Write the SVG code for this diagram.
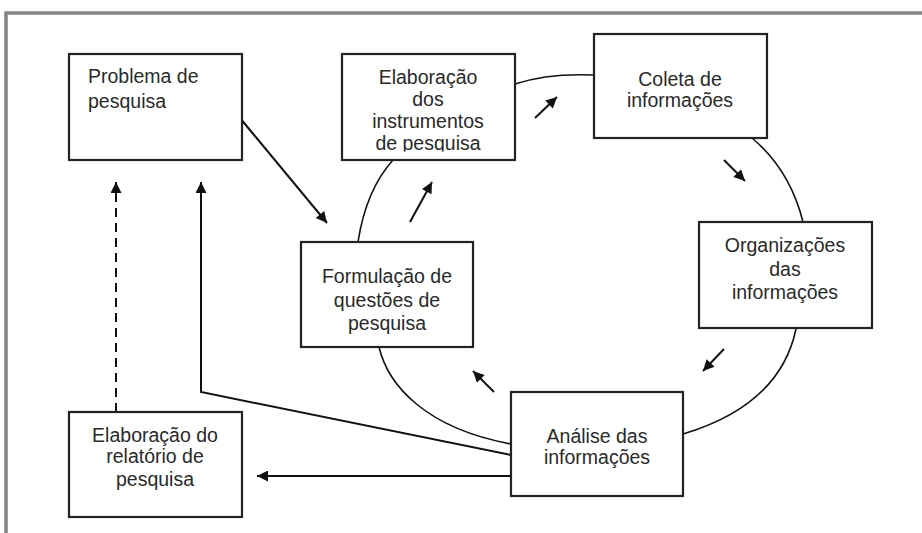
<svg xmlns="http://www.w3.org/2000/svg" width="922" height="533" viewBox="0 0 922 533">
<defs>
<style>
.box{fill:#fff;stroke:#222;stroke-width:2.2}
.t{font-family:"Liberation Sans",Arial,sans-serif;font-size:19.5px;fill:#2a2a2a}
.c{text-anchor:middle}
.ln{fill:none;stroke:#111;stroke-width:2}
.arc{fill:none;stroke:#111;stroke-width:1.6}
.dash{stroke-dasharray:9,6}
</style>
<marker id="ah" viewBox="0 0 10 10" refX="10" refY="5" markerWidth="14" markerHeight="11" markerUnits="userSpaceOnUse" orient="auto">
<path d="M0,0 L10,5 L0,10 z" fill="#111"/>
</marker>
<marker id="sh" viewBox="0 0 10 10" refX="10" refY="5" markerWidth="13" markerHeight="11" markerUnits="userSpaceOnUse" orient="auto">
<path d="M0,0 L10,5 L0,10 z" fill="#111"/>
</marker>
<clipPath id="clipE"><rect x="342" y="54" width="173" height="97.5"/></clipPath>
</defs>
<rect x="0" y="0" width="922" height="533" fill="#fff"/>
<g id="frame">
<path d="M6,533 L6,13 L922,13" fill="none" stroke="#858585" stroke-width="3.5"/>
</g>
<g id="connectors">
<path class="arc" d="M515,84 Q548,73 594,75"/>
<path class="arc" d="M752,138 Q790,170 803,222"/>
<path class="arc" d="M796,329 Q780,405 683,434"/>
<path class="arc" d="M379,347 C388,385 425,428 511,444"/>
<path class="arc" d="M393,160 Q366,190 358,242"/>
<line class="ln" x1="240" y1="118" x2="327" y2="223" marker-end="url(#ah)"/>
<polyline class="ln" points="511,455 201,392 201,182" marker-end="url(#ah)"/>
<line class="ln dash" x1="116" y1="412" x2="116" y2="182" marker-end="url(#ah)"/>
<line class="ln" x1="512" y1="476" x2="257" y2="476" marker-end="url(#ah)"/>
<line class="ln" x1="535" y1="118" x2="557" y2="97" marker-end="url(#sh)"/>
<line class="ln" x1="410" y1="222" x2="432" y2="182" marker-end="url(#sh)"/>
<line class="ln" x1="724" y1="160" x2="745" y2="181" marker-end="url(#sh)"/>
<line class="ln" x1="724" y1="349" x2="703" y2="371" marker-end="url(#sh)"/>
<line class="ln" x1="494" y1="392" x2="473" y2="371" marker-end="url(#sh)"/>
</g>
<g id="problema">
<rect class="box" x="69" y="54" width="173" height="106"/>
<text class="t" x="88" y="83">Problema de</text>
<text class="t" x="88" y="108">pesquisa</text>
</g>
<g id="elaboracao-instrumentos">
<rect class="box" x="342" y="54" width="173" height="106"/>
<g clip-path="url(#clipE)">
<text class="t c" x="428" y="84">Elaboração</text>
<text class="t c" x="428" y="106">dos</text>
<text class="t c" x="428" y="128">instrumentos</text>
<text class="t c" x="428" y="150">de pesquisa</text>
</g>
</g>
<g id="coleta">
<rect class="box" x="594" y="34" width="173" height="104"/>
<text class="t c" x="680" y="86">Coleta de</text>
<text class="t c" x="680" y="107">informações</text>
</g>
<g id="organizacoes">
<rect class="box" x="699" y="222" width="173" height="106"/>
<text class="t c" x="785" y="252">Organizações</text>
<text class="t c" x="785" y="276">das</text>
<text class="t c" x="785" y="299">informações</text>
</g>
<g id="formulacao">
<rect class="box" x="301" y="242" width="172" height="105"/>
<text class="t c" x="387" y="283">Formulação de</text>
<text class="t c" x="387" y="307">questões de</text>
<text class="t c" x="387" y="330">pesquisa</text>
</g>
<g id="analise">
<rect class="box" x="511" y="392" width="172" height="104"/>
<text class="t c" x="597" y="443">Análise das</text>
<text class="t c" x="597" y="464">informações</text>
</g>
<g id="relatorio">
<rect class="box" x="69" y="412" width="173" height="105"/>
<text class="t c" x="155" y="442">Elaboração do</text>
<text class="t c" x="155" y="463">relatório de</text>
<text class="t c" x="155" y="486">pesquisa</text>
</g>
</svg>
